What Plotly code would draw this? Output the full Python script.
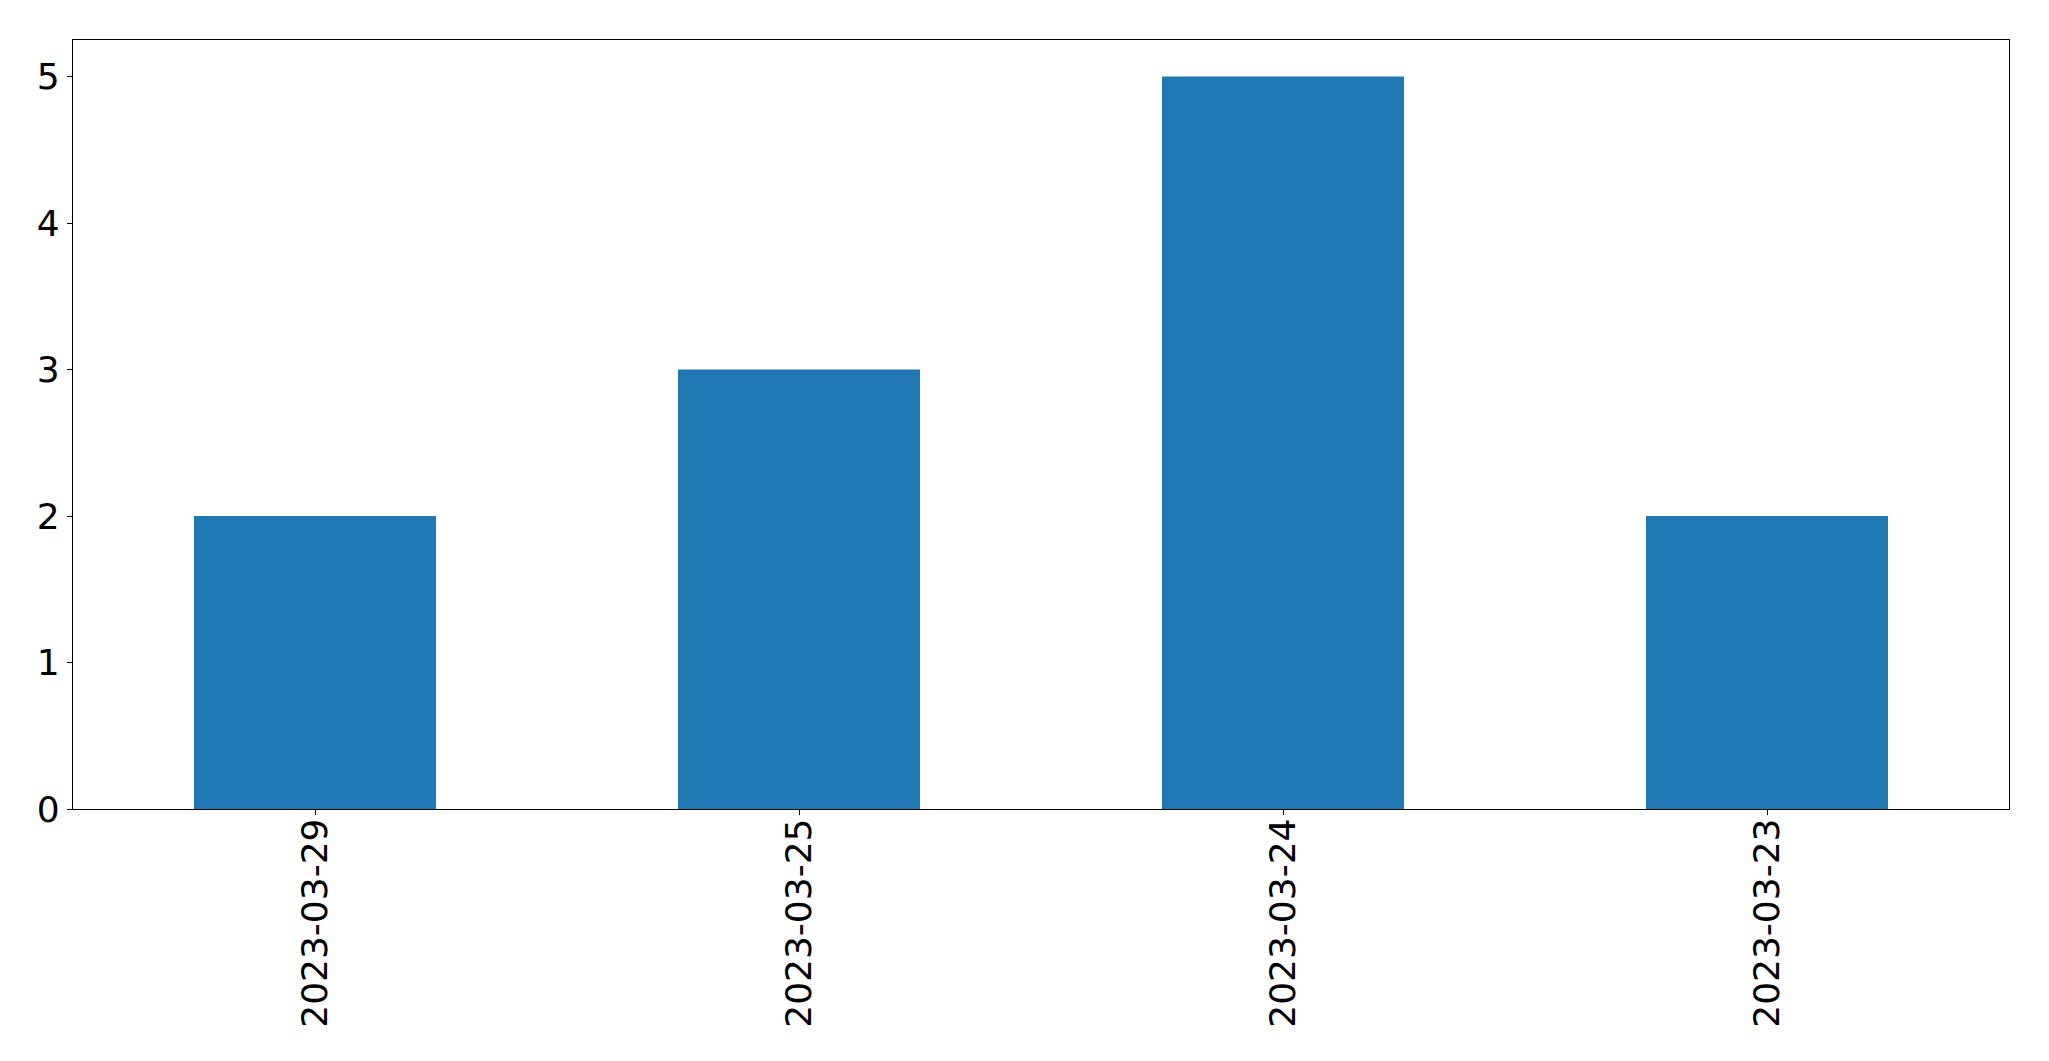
import plotly.graph_objects as go

categories = ["2023-03-29", "2023-03-25", "2023-03-24", "2023-03-23"]
values = [2, 3, 5, 2]
y_ticks = [0, 1, 2, 3, 4, 5]

fig = go.Figure(
    go.Bar(x=categories, y=values, marker=dict(color="#1f77b4", line=dict(width=0)), width=0.5)
)

axis_common = dict(
    showline=True, linecolor="black", linewidth=1.3, mirror=True,
    ticks="outside", ticklen=5, tickwidth=1.3, tickcolor="black",
    showgrid=False, zeroline=False, automargin=False,
    tickfont=dict(family="DejaVu Sans", size=36, color="black"),
)

fig.update_layout(
    width=2049, height=1061,
    margin=dict(l=64.5, r=48, t=31.5, b=260, pad=0),
    paper_bgcolor="white", plot_bgcolor="white",
    showlegend=False,
    bargap=0.5,
)
fig.update_xaxes(type="category", range=[-0.5, 3.5], tickangle=-90, ticklabelstandoff=-11, **axis_common)
fig.update_yaxes(range=[0, 5.25], tickvals=y_ticks, **axis_common)

fig.write_html("out.html")
